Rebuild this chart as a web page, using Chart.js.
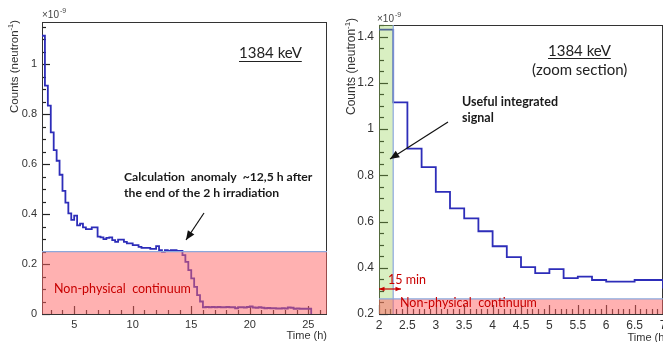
<!DOCTYPE html>
<html>
<head>
<meta charset="utf-8">
<script src="https://cdn.jsdelivr.net/npm/chart.js@4.4.1/dist/chart.umd.min.js"></script>
<style>
  body { margin: 0; background: #fff; width: 663px; height: 342px; overflow: hidden; position: relative; }
  canvas { position: absolute; top: 0; }
  #left { left: 0; }
  #right { left: 330px; }
</style>
</head>
<body>
<canvas id="left" width="330" height="342"></canvas>
<canvas id="right" width="333" height="342"></canvas>
<script>
// histogram: counts per 15 min bin (x1e-9 per neutron), first bin starts at 2 h
const binStart = 2.0
const binWidth = 0.25
const counts = [
  1.430, 1.115, 0.915, 0.835, 0.728, 0.657, 0.614, 0.558,   // 2.00 - 3.75
  0.493, 0.446, 0.403, 0.377, 0.394, 0.355, 0.362, 0.347,   // 4.00 - 5.75
  0.340, 0.340, 0.347, 0.347, 0.310, 0.307, 0.300, 0.305,   // 6.00 - 7.75
  0.307, 0.296, 0.289, 0.298, 0.298, 0.289, 0.283, 0.283,   // 8.00 - 9.75
  0.276, 0.276, 0.269, 0.265, 0.265, 0.265, 0.261, 0.261,   // 10.00 - 11.75
  0.272, 0.256, 0.249, 0.256, 0.253, 0.256, 0.256, 0.253,   // 12.00 - 13.75
  0.253, 0.236, 0.209, 0.176, 0.143, 0.109, 0.076, 0.050,   // 14.00 - 15.75
  0.027, 0.028, 0.027, 0.028, 0.027, 0.028, 0.027, 0.027,   // 16.00 - 17.75
  0.028, 0.027, 0.027, 0.023, 0.027, 0.027, 0.026, 0.028,   // 18.00 - 19.75
  0.030, 0.026, 0.025, 0.027, 0.025, 0.023, 0.024, 0.023,   // 20.00 - 21.75
  0.023, 0.022, 0.022, 0.023, 0.022, 0.026, 0.025, 0.021,   // 22.00 - 23.75
  0.022, 0.021, 0.021, 0.021, 0.021                          // 24.00 - 25.00
]

// non-physical continuum level as drawn on each panel
const continuumLeft = 0.25
const continuumRight = 0.265
// useful integrated signal window (h)
const signalWindow = [2.0, 2.25]

const leftTicksY = [0, 0.2, 0.4, 0.6, 0.8, 1]
const rightTicksY = [0.2, 0.4, 0.6, 0.8, 1, 1.2, 1.4]

const histColor = 'rgb(45,45,185)'
const lineBlue = 'rgb(140,168,220)'
const pink = 'rgba(255,100,100,0.5)'
const green = 'rgba(146,208,80,0.35)'
const red = '#c80000'

let histPoints = counts.map((v, i) => ({x: binStart + i * binWidth, y: v}))
histPoints.push({x: binStart + counts.length * binWidth, y: 0})

const fmt = v => String(+(+v).toFixed(2))

// frame + ROOT style inner ticks
function drawFrame(chart, o) {
  const ctx = chart.ctx, a = chart.chartArea
  const xs = chart.scales.x, ys = chart.scales.y
  ctx.save()
  ctx.strokeStyle = '#222'
  ctx.lineWidth = 1.2
  for (let i = Math.ceil(xs.min / o.xMinor - 1e-6); i * o.xMinor <= xs.max + 1e-6; i++) {
    const v = i * o.xMinor
    const major = Math.abs(v / o.xMajor - Math.round(v / o.xMajor)) < 1e-6
    const px = Math.round(xs.getPixelForValue(v)) + 0.5
    ctx.beginPath()
    ctx.moveTo(px, a.bottom)
    ctx.lineTo(px, a.bottom - (major ? o.major : o.minor))
    ctx.stroke()
  }
  for (let i = Math.ceil(ys.min / o.yMinor - 1e-6); i * o.yMinor <= ys.max + 1e-6; i++) {
    const v = i * o.yMinor
    const major = Math.abs(v / o.yMajor - Math.round(v / o.yMajor)) < 1e-6
    const py = Math.round(ys.getPixelForValue(v)) + 0.5
    ctx.beginPath()
    ctx.moveTo(a.left, py)
    ctx.lineTo(a.left + (major ? o.major : o.minor), py)
    ctx.stroke()
  }
  ctx.lineWidth = 1
  ctx.strokeStyle = '#333'
  ctx.strokeRect(a.left + 0.5, a.top + 0.5, a.right - a.left - 1, a.bottom - a.top)
  ctx.restore()
}

function arrow(ctx, x1, y1, x2, y2, color, head, both) {
  ctx.save()
  ctx.strokeStyle = color
  ctx.fillStyle = color
  ctx.lineWidth = 1.2
  ctx.beginPath()
  ctx.moveTo(x1, y1)
  ctx.lineTo(x2, y2)
  ctx.stroke()
  const tip = (tx, ty, fx, fy) => {
    const ang = Math.atan2(ty - fy, tx - fx)
    ctx.beginPath()
    ctx.moveTo(tx, ty)
    ctx.lineTo(tx - head * Math.cos(ang - 0.4), ty - head * Math.sin(ang - 0.4))
    ctx.lineTo(tx - head * Math.cos(ang + 0.4), ty - head * Math.sin(ang + 0.4))
    ctx.closePath()
    ctx.fill()
  }
  tip(x2, y2, x1, y1)
  if (both) tip(x1, y1, x2, y2)
  ctx.restore()
}

function yTitle(ctx, x, yTop, size) {
  ctx.save()
  ctx.fillStyle = '#333'
  ctx.translate(x, yTop)
  ctx.rotate(-Math.PI / 2)
  ctx.textBaseline = 'middle'
  ctx.textAlign = 'left'
  const f1 = size + 'px "Liberation Sans"', f2 = (size * 0.65) + 'px "Liberation Sans"'
  ctx.font = f1
  const w1 = ctx.measureText('Counts (neutron').width
  const w3 = ctx.measureText(')').width
  ctx.font = f2
  const w2 = ctx.measureText('-1').width
  let x0 = -(w1 + w2 + w3)
  ctx.font = f1
  ctx.fillText('Counts (neutron', x0, 0)
  ctx.font = f2
  ctx.fillText('-1', x0 + w1, -size * 0.35)
  ctx.font = f1
  ctx.fillText(')', x0 + w1 + w2, 0)
  ctx.restore()
}

function expLabel(ctx, x, y) {
  ctx.save()
  ctx.fillStyle = '#444'
  ctx.textBaseline = 'middle'
  ctx.font = '10px "Liberation Sans"'
  ctx.fillText('\u00d710', x, y)
  const w = ctx.measureText('\u00d710').width
  ctx.font = '7px "Liberation Sans"'
  ctx.fillText('-9', x + w + 1, y - 4)
  ctx.restore()
}

function text(ctx, s, x, y, font, color) {
  ctx.save()
  ctx.font = font
  ctx.fillStyle = color
  ctx.textBaseline = 'middle'
  ctx.fillText(s, x, y)
  const w = ctx.measureText(s).width
  ctx.restore()
  return w
}

function underline(ctx, x, y, w) {
  ctx.save()
  ctx.strokeStyle = '#222'
  ctx.lineWidth = 1
  ctx.beginPath()
  ctx.moveTo(x, y + 0.5)
  ctx.lineTo(x + w, y + 0.5)
  ctx.stroke()
  ctx.restore()
}

function baseOptions(xmin, xmax, ymin, ymax, xStep, yTicks, yWidth, pad, fontSize) {
  return {
    responsive: false,
    animation: false,
    devicePixelRatio: 1,
    layout: { padding: pad, autoPadding: false },
    plugins: { legend: { display: false }, tooltip: { enabled: false } },
    scales: {
      x: {
        type: 'linear', min: xmin, max: xmax,
        grid: { display: false, drawTicks: false },
        border: { display: false },
        ticks: { stepSize: xStep, autoSkip: false, maxRotation: 0, includeBounds: false, padding: 4,
                 color: '#333', font: { family: 'Liberation Sans', size: fontSize }, callback: fmt },
        afterFit: s => { s.height = 28; s.paddingLeft = 0; s.paddingRight = 0 }
      },
      y: {
        type: 'linear', min: ymin, max: ymax,
        grid: { display: false, drawTicks: false },
        border: { display: false },
        afterBuildTicks: s => { s.ticks = yTicks.map(v => ({value: v})) },
        ticks: { padding: 5, color: '#333', font: { family: 'Liberation Sans', size: fontSize }, callback: fmt },
        afterFit: s => { s.width = yWidth; s.paddingTop = 0; s.paddingBottom = 0 }
      }
    }
  }
}

// left panel: full time range
const leftMin = 2.25, leftMax = 26.6, leftTop = 1.17
new Chart(document.getElementById('left'), {
  type: 'line',
  data: {
    datasets: [
      {
        data: histPoints.filter(p => p.x >= leftMin),
        stepped: true, borderColor: histColor, borderWidth: 1.8, pointRadius: 0, fill: false, order: 2
      },
      {
        data: [{x: leftMin, y: continuumLeft}, {x: leftMax, y: continuumLeft}],
        borderColor: lineBlue, borderWidth: 1.2, backgroundColor: pink, pointRadius: 0, fill: 'start', order: 1
      }
    ]
  },
  options: baseOptions(leftMin, leftMax, 0, leftTop, 5, leftTicksY, 42, {top: 22, right: 3, left: 0, bottom: 0}, 11),
  plugins: [{
    id: 'leftDeco',
    beforeDatasetsDraw(chart) {
      drawFrame(chart, {xMinor: 1, xMajor: 5, yMinor: 0.05, yMajor: 0.2, major: 8, minor: 4})
    },
    afterDraw(chart) {
      const ctx = chart.ctx, a = chart.chartArea
      yTitle(ctx, 15, 20, 11.5)
      expLabel(ctx, a.left, 15)
      ctx.save()
      ctx.font = '11px "Liberation Sans"'
      ctx.fillStyle = '#333'
      ctx.textAlign = 'right'
      ctx.textBaseline = 'middle'
      ctx.fillText('Time (h)', a.right, 336)
      ctx.restore()
      const w = text(ctx, '1384 keV', 239, 53, '15px Lato', '#222')
      underline(ctx, 239, 61, w)
      text(ctx, 'Calculation  anomaly  ~12,5 h after', 124, 177, 'bold 12.2px Lato', '#1a1a1a')
      text(ctx, 'the end of the 2 h irradiation', 124, 193, 'bold 12.2px Lato', '#1a1a1a')
      arrow(ctx, 204, 213, 186, 240, '#111', 10, false)
      text(ctx, 'Non-physical  continuum', 54, 289, '12.5px Lato', red)
    }
  }]
})

// right panel: zoom on the first hours
const rightMin = 2, rightMax = 7, rightBottom = 0.2, rightTop = 1.45
new Chart(document.getElementById('right'), {
  type: 'line',
  data: {
    datasets: [
      {
        data: histPoints,
        stepped: true, borderColor: histColor, borderWidth: 1.8, pointRadius: 0, fill: false, order: 3
      },
      {
        data: [{x: signalWindow[0], y: rightTop}, {x: signalWindow[1], y: rightTop}],
        borderWidth: 0, backgroundColor: green, pointRadius: 0, fill: 'start', order: 2
      },
      {
        data: [{x: signalWindow[1], y: rightBottom}, {x: signalWindow[1], y: rightTop}],
        borderColor: lineBlue, borderWidth: 1.2, pointRadius: 0, fill: false, order: 1
      },
      {
        data: [{x: rightMin, y: continuumRight}, {x: rightMax, y: continuumRight}],
        borderColor: lineBlue, borderWidth: 1.2, backgroundColor: pink, pointRadius: 0, fill: 'start', order: 0
      }
    ]
  },
  options: baseOptions(rightMin, rightMax, rightBottom, rightTop, 0.5, rightTicksY, 49, {top: 25, right: 0, left: 0, bottom: 0}, 12),
  plugins: [{
    id: 'rightDeco',
    beforeDatasetsDraw(chart) {
      drawFrame(chart, {xMinor: 0.1, xMajor: 0.5, yMinor: 0.05, yMajor: 0.2, major: 9, minor: 5})
    },
    afterDraw(chart) {
      const ctx = chart.ctx, a = chart.chartArea
      yTitle(ctx, 22, 18, 12)
      expLabel(ctx, a.left - 2, 19)
      ctx.save()
      ctx.font = '11px "Liberation Sans"'
      ctx.fillStyle = '#333'
      ctx.textAlign = 'right'
      ctx.textBaseline = 'middle'
      ctx.fillText('Time (h)', a.right + 5, 338)
      ctx.restore()
      const w = text(ctx, '1384 keV', 218, 51, '15px Lato', '#222')
      underline(ctx, 218, 58, w)
      text(ctx, '(zoom section)', 202, 70, '15px Lato', '#222')
      text(ctx, 'Useful integrated', 132, 102, 'bold 12.5px Lato', '#1a1a1a')
      text(ctx, 'signal', 132, 118, 'bold 12.5px Lato', '#1a1a1a')
      arrow(ctx, 118, 122, 60, 159, '#111', 10, false)
      text(ctx, '15 min', 58, 280, '12.5px Lato', red)
      arrow(ctx, 49, 289, 71, 289, red, 6, true)
      text(ctx, 'Non-physical  continuum', 70, 303, '12.5px Lato', red)
    }
  }]
})
</script>
</body>
</html>
